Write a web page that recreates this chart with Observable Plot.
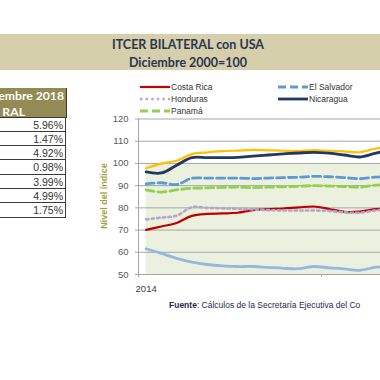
<!DOCTYPE html>
<html><head><meta charset="utf-8">
<script src="https://cdn.jsdelivr.net/npm/d3@7"></script>
<script src="https://cdn.jsdelivr.net/npm/@observablehq/plot@0.6"></script>
<style>
html,body{margin:0;padding:0;width:380px;height:380px;overflow:hidden;background:#fff;font-family:"Liberation Sans",Arial,sans-serif;}
#band{position:absolute;left:0;top:34px;width:380px;height:36px;background:#d6cfab;}
.title{position:absolute;left:0;width:376px;text-align:center;font-family:Lato,sans-serif;font-weight:bold;color:#2a3550;font-size:12.5px;line-height:14px;}
#hdr{position:absolute;left:-140px;top:88px;width:206px;height:29px;background:#948a54;border-right:1px solid #3a3a3a;border-bottom:1px solid #3a3a3a;}
.hd{position:absolute;font-family:Lato,sans-serif;font-weight:bold;color:#fff;font-size:12.2px;line-height:13px;white-space:nowrap;}
.row{position:absolute;left:-140px;width:206px;border-right:1px solid #3a3a3a;border-bottom:1px solid #3a3a3a;font-size:10.5px;color:#333;text-align:right;box-sizing:border-box;padding-right:2px;}
.leg{position:absolute;font-size:8.5px;color:#333;white-space:nowrap;line-height:10px;}
#chart{position:absolute;left:100px;top:75px;}
#ylab{position:absolute;left:104px;top:196px;transform:translate(-50%,-50%) rotate(-90deg);font-size:9px;font-weight:bold;color:#9aa43e;white-space:nowrap;}
#src{position:absolute;left:169px;top:300px;font-size:8.5px;line-height:10px;color:#1f2a50;white-space:nowrap;}
</style></head>
<body>
<div id="band"></div>
<div class="title" style="top:38px">ITCER BILATERAL con USA</div>
<div class="title" style="top:56px">Diciembre 2000=100</div>
<div id="table"></div>
<div id="legend"></div>
<div id="chart"></div>
<div id="ylab">Nivel del índice</div>
<div id="src"><b>Fuente</b>: Cálculos de la Secretaría Ejecutiva del Co</div>
<script>
// monthly observations, Jan 2014 onward
const months = ["2014-01","2014-02","2014-03","2014-04","2014-05","2014-06","2014-07","2014-08","2014-09","2014-10","2014-11","2014-12","2015-01","2015-02","2015-03","2015-04","2015-05"];
const countries = ["Costa Rica","El Salvador","Guatemala","Honduras","Nicaragua","Rep. Dominicana","Panamá"];
const costaRica   = [70.1,71.6,73.2,76.4,77.3,77.5,77.8,79.0,79.4,79.7,80.2,80.6,79.5,78.2,78.3,79.4,79.8];
const elSalvador  = [90.8,91.3,90.5,93.3,93.4,93.4,93.4,93.2,93.4,93.6,93.8,94.2,94.0,93.6,93.1,93.8,94.2];
const guatemala   = [97.8,99.9,101.2,104.2,105.0,105.5,105.8,106.1,105.9,105.7,105.6,106.0,105.7,105.4,105.0,106.6,107.5];
const honduras    = [74.8,75.6,76.5,80.3,80.0,79.8,79.6,79.3,79.0,78.8,78.8,78.8,78.6,78.0,77.8,78.8,79.4];
const nicaragua   = [96.2,95.7,99.2,102.6,102.6,102.6,102.7,103.3,103.8,104.3,104.7,105.0,104.6,103.8,102.9,104.5,106.0];
const repDom      = [61.6,59.5,57.3,55.6,54.5,53.9,53.6,53.6,53.2,52.8,52.6,53.6,53.0,52.5,51.9,53.2,53.6];
const panama      = [88.1,87.1,88.1,88.8,89.0,89.2,89.3,89.1,89.3,89.5,89.7,90.0,89.8,89.6,89.3,90.2,90.6];
const variacion   = [5.96,1.47,4.92,0.98,3.99,4.99,1.75];
const yTicks = [50,60,70,80,90,100,110,120];
const baseLevel = 100;

const seriesValues = [costaRica, elSalvador, guatemala, honduras, nicaragua, repDom, panama];
const styles = {
  "Costa Rica":      {stroke:"#c00000", w:2.2, dash:null},
  "El Salvador":     {stroke:"#5b9bd5", w:2.8, dash:"8,4"},
  "Guatemala":       {stroke:"#ffc000", w:2.2, dash:null},
  "Honduras":        {stroke:"#b3a6cc", w:2.6, dash:"2.4,3.2"},
  "Nicaragua":       {stroke:"#1f3864", w:2.8, dash:null},
  "Rep. Dominicana": {stroke:"#95b8e0", w:2.8, dash:null},
  "Panamá":          {stroke:"#92d050", w:2.8, dash:"8,4"}
};
const drawOrder = ["Costa Rica","El Salvador","Guatemala","Honduras","Nicaragua","Panamá","Rep. Dominicana"];

const data = [];
countries.forEach((c, k) => seriesValues[k].forEach((v, i) => data.push({country:c, i, month:months[i], v})));
const base = months.map((m, i) => ({i, v: baseLevel}));

const marks = [
  Plot.areaY(base, {x:"i", y1:50, y2:"v", fill:"#ebf1de"}),
  Plot.gridY(yTicks, {stroke:"#a6a6a6", strokeOpacity:1}),
  Plot.ruleX([-0.5], {stroke:"#a6a6a6"}),
  Plot.axisY(yTicks, {label:null, tickSize:3, tickPadding:7, stroke:"#a6a6a6", fill:"#595959", fontSize:9.5}),
  Plot.axisX([-0.5, 11.5], {label:null, tickSize:3, tickFormat:() => "", stroke:"#a6a6a6"}),
  Plot.axisX([0], {label:null, tickSize:0, tickPadding:11, tickFormat:(i) => months[i].slice(0,4), fill:"#404040", fontSize:9.5})
];
drawOrder.forEach(c => {
  const s = styles[c];
  marks.push(Plot.line(data.filter(d => d.country === c), {x:"i", y:"v", stroke:s.stroke, strokeWidth:s.w, strokeDasharray:s.dash, curve:"catmull-rom"}));
});

const chart = Plot.plot({
  width:280, height:225,
  marginLeft:38, marginRight:0, marginTop:43.5, marginBottom:26,
  style:{background:"transparent", fontFamily:"Liberation Sans, Arial, sans-serif", fontSize:"9.5px", color:"#595959"},
  x:{type:"linear", domain:[-0.5, 15.37], axis:null, label:null},
  y:{domain:[50,120], axis:null, label:null},
  marks
});
document.getElementById("chart").appendChild(chart);

// table (country column lies off the visible area)
const tbl = document.getElementById("table");
const hdr = document.createElement("div"); hdr.id = "hdr"; tbl.appendChild(hdr);
const hw = document.createElement("div"); hw.style.cssText = "position:absolute;left:0;top:0;width:380px;height:380px;";
const h1 = document.createElement("div"); h1.className = "hd"; h1.textContent = "embre 2018";
h1.style.right = (380-64) + "px"; h1.style.top = "89px";
const h2 = document.createElement("div"); h2.className = "hd"; h2.textContent = "RAL";
h2.style.right = (380-25) + "px"; h2.style.top = "105px";
hw.appendChild(h1); hw.appendChild(h2); tbl.appendChild(hw);
const rowH = 14.3;
variacion.forEach((v, k) => {
  const r = document.createElement("div"); r.className = "row";
  r.style.top = (117.5 + k*rowH) + "px"; r.style.height = rowH + "px"; r.style.lineHeight = (rowH+1) + "px";
  r.textContent = v.toFixed(2) + "%";
  tbl.appendChild(r);
});

// legend (3 columns, only the first two fall inside the picture)
const leg = document.getElementById("legend");
const colX = [140, 278], rowY = [87, 99, 111];
countries.forEach((c, k) => {
  const col = k % 3, row = Math.floor(k / 3);
  if (col > 1) return;
  const s = styles[c];
  const el = document.createElement("div"); el.className = "leg";
  el.style.left = colX[col] + "px"; el.style.top = (rowY[row]-5) + "px";
  el.innerHTML = `<svg width="31" height="10" style="vertical-align:top"><line x1="0" x2="30" y1="5" y2="5" stroke="${s.stroke}" stroke-width="${s.w}" ${s.dash?`stroke-dasharray="${s.dash}"`:""}/></svg><span>${c}</span>`;
  leg.appendChild(el);
});
</script>
</body></html>
